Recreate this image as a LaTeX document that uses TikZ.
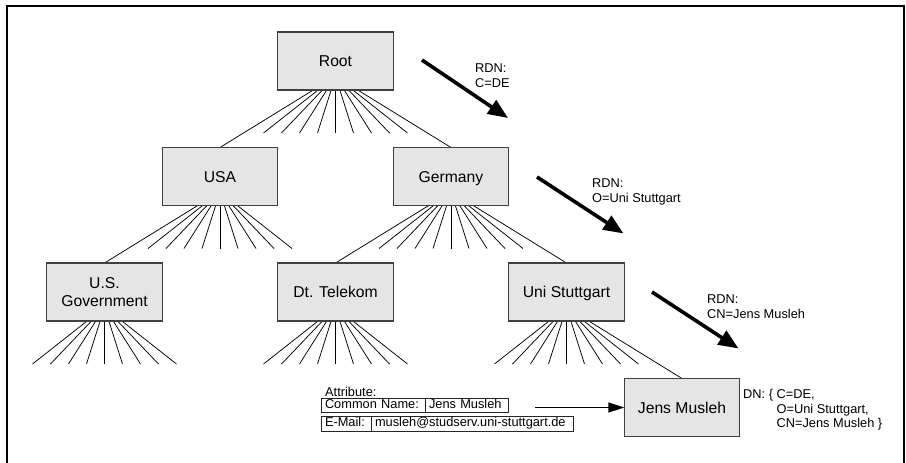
\documentclass[tikz,border=0pt]{standalone}
\usepackage{fontspec}
\setmainfont{Liberation Sans}
\usetikzlibrary{arrows.meta,backgrounds,calc}

\begin{document}
\begin{tikzpicture}[x=1pt,y=-1pt,
  box/.style={draw=black!75, line width=1.1pt, fill=gray!20, minimum width=115.5pt, minimum height=58pt, inner sep=0pt, outer sep=0pt, align=center, font=\fontsize{15.7}{18.4}\selectfont},
  oneline/.style={text height=11.2pt, text depth=0pt},
  fan/.style={line width=0.75pt, black},
  bigarrow/.style={line width=3.6pt, -{Triangle[length=20pt,width=16pt]}},
  cell/.style={draw=black!85, line width=0.9pt, inner xsep=4pt, inner ysep=0pt, outer sep=0pt, anchor=north west, align=left, font=\fontsize{12.8}{14}\selectfont, text height=9.3pt, text depth=2.8pt},
  lbl/.style={inner sep=0pt, anchor=base west, font=\fontsize{12.8}{15.3}\selectfont}
]
\useasboundingbox (0,0) rectangle (906,463);

% frame
\draw[line width=2pt, line join=miter] (7,463) -- (7,6) -- (904,6) -- (904,463);

% boxes
\node[box,oneline] (Root) at (335.5,61) {Root};
\node[box,oneline] (USA) at (220,176.5) {USA};
\node[box,oneline] (Germany) at (451,176.5) {Germany};
\node[box] (Gov) at (104.5,292) {U.S.\\Government};
\node[box,oneline] (Tel) at (335.5,292) {Dt. Telekom};
\node[box,oneline] (Uni) at (566.5,292) {Uni Stuttgart};
\node[box,oneline] (Jens) at (682,407.5) {Jens Musleh};

% fans
\begin{pgfonlayer}{background}
\foreach \n in {Root,USA,Germany,Gov,Tel,Uni} {
  \coordinate (\n-f) at ($(\n.south)+(0,-13.7)$);
  \foreach \k in {-4,...,4} {
    \coordinate (\n-e\k) at ($(\n.south)+(18*\k,43)$);
    \draw[fan] (\n-f) -- (\n-e\k);
  }
}
\draw[fan] (Root-f) -- (USA.north);
\draw[fan] (Root-f) -- (Germany.north);
\draw[fan] (USA-f) -- (Gov.north);
\draw[fan] (Germany-f) -- (Tel.north);
\draw[fan] (Germany-f) -- (Uni.north);
\draw[fan] (Uni-f) -- (Jens.north);
\end{pgfonlayer}

% RDN arrows
\coordinate (a1s) at (422,60);  \coordinate (a1e) at (508,118);
\coordinate (a2s) at (537,177); \coordinate (a2e) at (623.5,233.5);
\coordinate (a3s) at (652,292); \coordinate (a3e) at (738.5,348.5);
\draw[bigarrow] (a1s) -- (a1e);
\draw[bigarrow] (a2s) -- (a2e);
\draw[bigarrow] (a3s) -- (a3e);

\node[lbl] (r1) at (475,72.6) {\begin{tabular}[t]{@{}l@{}}RDN:\\C=DE\end{tabular}};
\node[lbl] (r2) at (592,187.6) {\begin{tabular}[t]{@{}l@{}}RDN:\\O=Uni Stuttgart\end{tabular}};
\node[lbl] (r3) at (707,303.6) {\begin{tabular}[t]{@{}l@{}}RDN:\\CN=Jens Musleh\end{tabular}};

% DN
\node[lbl, font=\fontsize{12.8}{14.5}\selectfont] (dn) at (743,398.6) {\begin{tabular}[t]{@{}l@{}}DN: \{ C=DE,\\\phantom{DN: \{ }O=Uni Stuttgart,\\\phantom{DN: \{ }CN=Jens Musleh \}\end{tabular}};

% attributes
\node[lbl] (attr) at (325,396.6) {Attribute:};
\node[cell, text width=96pt, minimum height=14.5pt] (cn) at (321,398) {Common Name:};
\node[cell, text width=75pt, minimum height=14.5pt] (cv) at (cn.north east) {Jens Musleh};
\node[cell, text width=42pt, minimum height=15pt] (em) at (321,416) {E-Mail:};
\node[cell, text width=194pt, minimum height=15pt] (ev) at (em.north east) {musleh@studserv.uni-stuttgart.de};

\coordinate (as) at (535,407.5);
\draw[line width=1.5pt, -{Triangle[length=16pt,width=10pt]}] (as) -- (Jens.west);
\end{tikzpicture}
\end{document}
